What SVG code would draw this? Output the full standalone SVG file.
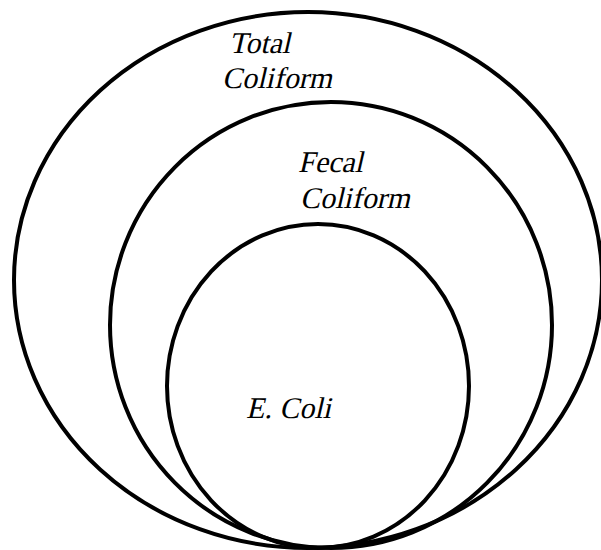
<svg xmlns="http://www.w3.org/2000/svg" width="601" height="550" viewBox="0 0 601 550">
<style>
.ring{fill:none;stroke:#000;stroke-width:4}
</style>
<rect width="601" height="550" fill="#fff"/>
<g id="total">
<ellipse class="ring" cx="308" cy="280" rx="294" ry="268"/>
<g transform="translate(229,53) skewX(-13)"><text x="0" y="0" font-family="Liberation Serif" font-size="30">Total</text></g>
<g transform="translate(222,88) skewX(-13)"><text x="0" y="0" font-family="Liberation Serif" font-size="30">Coliform</text></g>
</g>
<g id="fecal">
<ellipse class="ring" cx="331" cy="325" rx="221" ry="223"/>
<g transform="translate(298,172) skewX(-13)"><text x="0" y="0" font-family="Liberation Serif" font-size="30">Fecal</text></g>
<g transform="translate(300,208) skewX(-13)"><text x="0" y="0" font-family="Liberation Serif" font-size="30">Coliform</text></g>
</g>
<g id="ecoli">
<ellipse class="ring" cx="318" cy="386" rx="151" ry="162"/>
<g transform="translate(246,418) skewX(-13)"><text x="0" y="0" font-family="Liberation Serif" font-size="30">E. Coli</text></g>
</g>
<g id="connectors"/>
</svg>
